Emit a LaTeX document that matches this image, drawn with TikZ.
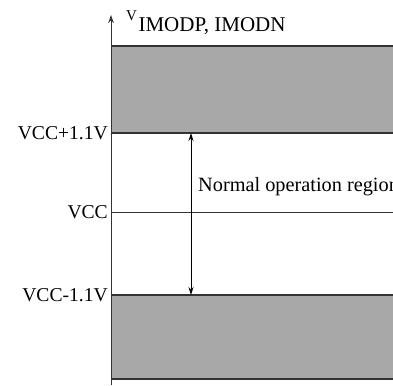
\documentclass[tikz,border=0pt]{standalone}
\usepackage{fontspec}
\setmainfont{Liberation Serif}
\usetikzlibrary{arrows.meta}

\begin{document}
\begin{tikzpicture}[x=1pt, y=-1pt,
    every node/.style={inner sep=0pt, font=\fontsize{19.6}{22}\selectfont},
    band/.style={fill=black!34, draw=none},
    level/.style={draw=black!80, line width=1.2pt},
    axis/.style={draw=black!80, line width=0.9pt, -{Stealth[length=8pt, width=5.5pt]}}]
			\useasboundingbox (0,0) rectangle (393,385);
			
			\coordinate (o) at (111,385);
			\coordinate (top) at (111,15);
			\coordinate (hi) at (111,133);
			\coordinate (mid) at (111,212);
			\coordinate (lo) at (111,295);
			\coordinate (hiend) at (400,133);
			\coordinate (midend) at (400,212);
			\coordinate (loend) at (400,295);
			\coordinate (arrhi) at (191,133);
			\coordinate (arrlo) at (191,295);
			
			\fill[band] (111,46) rectangle (400,133);
			\fill[band] (111,295) rectangle (400,379);
			\path[level] (111,46) -- (400,46);
			\path[level] (111,379) -- (400,379);
			\path[level] (hi) -- (hiend);
			\path[level] (lo) -- (loend);
			\path[draw=black!80, line width=0.9pt] (mid) -- (midend);
			
			\path[axis] (o) -- (top);
			\path[draw=black, line width=0.9pt, {Stealth[length=8pt, width=5pt]}-{Stealth[length=8pt, width=5pt]}] (arrlo) -- (arrhi);
			
			\node[anchor=base west] (vlab) at (126,21) {{\fontsize{15}{17}\selectfont V}\hspace{1.5pt}\raisebox{-11pt}{\fontsize{21}{23}\selectfont IMODP, IMODN}};
			\node[anchor=east] (hilab) at (108,133) {VCC+1.1V};
			\node[anchor=east] (midlab) at (108,212) {VCC};
			\node[anchor=east] (lolab) at (108,295) {VCC-1.1V};
			\node[anchor=west, font=\fontsize{20.3}{22}\selectfont] (region) at (198,187) {Normal operation region};
			\end{tikzpicture}
\end{document}
